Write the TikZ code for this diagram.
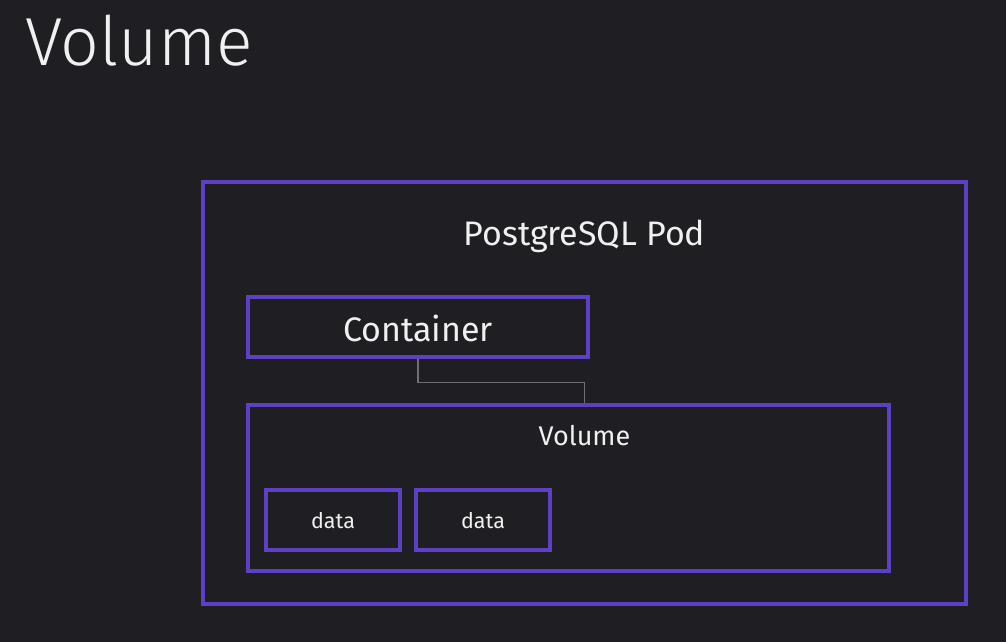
\documentclass[tikz,border=0pt]{standalone}
\usepackage{fontspec}
\setmainfont{Fira Sans}
\newfontfamily\lightfont{Fira Sans Light}
\usepackage{xcolor}
\definecolor{bgdark}{RGB}{31,30,34}
\definecolor{podpurple}{RGB}{94,64,196}
\definecolor{wiregray}{RGB}{112,112,114}

\begin{document}
\begin{tikzpicture}[x=1pt,y=-1pt,
    box/.style={draw=podpurple, line width=3.5pt, inner sep=0, fill=bgdark},
    lbl/.style={text=white!94!black, inner sep=0}]
  %% ========================================================
  \fill[bgdark] (0,0) rectangle (1006,642);
  \useasboundingbox (0,0) rectangle (1006,642);

  \node[lbl, anchor=base west, font=\lightfont\fontsize{68}{68}\selectfont] (title) at (25,66) {Volume};

  %% ========================================================
  \node[box, minimum width=763pt, minimum height=422pt] (pod) at (584.5,393) {};
  \node[lbl, font=\fontsize{34}{34}\selectfont] (podlbl) at (584.5,236) {PostgreSQL Pod};

  \node[box, minimum width=340pt, minimum height=60pt] (cont) at (418,327) {};
  \node[lbl, font=\fontsize{34}{34}\selectfont] (contlbl) at (418,328) {Container};

  \node[box, minimum width=641pt, minimum height=166pt] (vol) at (568.5,488) {};
  \node[lbl, font=\fontsize{27}{27}\selectfont] (vollbl) at (584.5,436) {Volume};

  \begin{scope}% data folders
    \node[box, minimum width=134pt, minimum height=60pt] (dataA) at (333,520) {};
    \node[lbl, font=\fontsize{21.5}{21.5}\selectfont, yshift=-1pt] at (dataA) {data};
    \node[box, minimum width=134pt, minimum height=60pt] (dataB) at (483,520) {};
    \node[lbl, font=\fontsize{21.5}{21.5}\selectfont, yshift=-1pt] at (dataB) {data};
  \end{scope}

  \draw[wiregray, line width=1.3pt] (cont.south) -- ++(0,24) coordinate (bend) -| (vol.north -| vollbl);
  %% ========================================================
\end{tikzpicture}
\end{document}
